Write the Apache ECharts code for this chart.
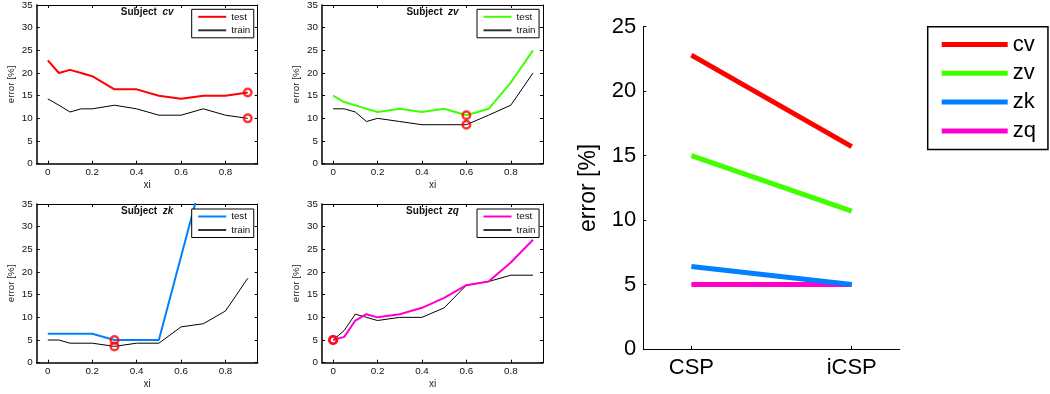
<!DOCTYPE html>
<html>
<head>
<meta charset="utf-8">
<script src="https://cdn.jsdelivr.net/npm/echarts@6/dist/echarts.min.js"></script>
<style>
html,body{margin:0;padding:0;background:#fff;}
#c{width:1050px;height:394px;}
</style>
</head>
<body>
<div id="c"></div>
<script>
// ---- data ----
const xi = [0, 0.05, 0.1, 0.15, 0.2, 0.3, 0.4, 0.5, 0.6, 0.7, 0.8, 0.9];
const xiTicks = [0, 0.2, 0.4, 0.6, 0.8];
const subjects = ['cv', 'zv', 'zk', 'zq'];
const subjectColors = ['#ff0000', '#40ff00', '#0080ff', '#ff00cc'];
const testCv  = [22.8, 20.0, 20.7, 20.0, 19.3, 16.4, 16.4, 15.0, 14.3, 15.0, 15.0, 15.7];
const trainCv = [14.3, 12.9, 11.4, 12.1, 12.1, 12.9, 12.1, 10.7, 10.7, 12.1, 10.7, 10.0];
const testZv  = [15.0, 13.6, 12.9, 12.1, 11.4, 12.1, 11.4, 12.1, 10.7, 12.1, 17.9, 25.0];
const trainZv = [12.1, 12.1, 11.4, 9.3, 10.0, 9.3, 8.6, 8.6, 8.6, 10.7, 12.9, 20.0];
const testZk  = [6.4, 6.4, 6.4, 6.4, 6.4, 5.0, 5.0, 5.0, 23.4, 41.8, 46.0, 50.0];
const trainZk = [5.0, 5.0, 4.3, 4.3, 4.3, 3.6, 4.3, 4.3, 7.9, 8.6, 11.4, 18.6];
const testZq  = [5.0, 5.7, 9.3, 10.7, 10.0, 10.7, 12.1, 14.3, 17.1, 17.9, 22.1, 27.1];
const trainZq = [5.0, 7.1, 10.7, 10.0, 9.3, 10.0, 10.0, 12.1, 17.1, 17.9, 19.3, 19.3];
const bestIndex = [11, 8, 5, 0];           // selected xi per subject (red circles)
const methods = ['CSP', 'iCSP'];
const yTicksSmall = [0, 35, 5];            // min, max, step
const yTicksBig = [0, 25, 5];

const tests = [testCv, testZv, testZk, testZq];
const trains = [trainCv, trainZv, trainZk, trainZq];

// ---- layout ----
const FONT = 'Liberation Sans, Arial, Helvetica, sans-serif';
const smallGrids = [
  {left: 36.7, top: 4.3, width: 221, height: 159.4},
  {left: 322, top: 4.3, width: 221, height: 159.4},
  {left: 36.7, top: 204, width: 221, height: 158.7},
  {left: 322, top: 204, width: 221, height: 158.7}
];
const bigGrid = {left: 643.3, top: 26.7, width: 256.5, height: 322.3};

const grid = [], xAxis = [], yAxis = [], series = [], legend = [], title = [];

smallGrids.forEach((g, i) => {
  grid.push(Object.assign({containLabel: false}, g));
  const s = subjects[i];
  const tickStyle = {show: true, inside: true, length: 3, lineStyle: {color: '#000', width: 1}};
  xAxis.push({
    gridIndex: i, type: 'value', min: -0.05, max: 0.945, position: 'bottom',
    axisLine: {show: true, onZero: false, lineStyle: {color: '#000', width: 1.5}},
    axisTick: Object.assign({customValues: xiTicks}, tickStyle),
    axisLabel: {customValues: xiTicks, color: '#111', fontSize: 9.8, fontFamily: FONT, margin: 4},
    splitLine: {show: false},
    name: 'xi', nameLocation: 'middle', nameGap: 16.5,
    nameTextStyle: {color: '#222', fontSize: 10, fontFamily: FONT}
  });
  xAxis.push({
    gridIndex: i, type: 'value', min: -0.05, max: 0.945, position: 'top',
    axisLine: {show: true, onZero: false, lineStyle: {color: '#000', width: 1}},
    axisTick: Object.assign({customValues: xiTicks}, tickStyle),
    axisLabel: {show: false}, splitLine: {show: false}
  });
  yAxis.push({
    gridIndex: i, type: 'value', min: yTicksSmall[0], max: yTicksSmall[1], interval: yTicksSmall[2], position: 'left',
    axisLine: {show: true, onZero: false, lineStyle: {color: '#000', width: 1.5}},
    axisTick: tickStyle,
    axisLabel: {color: '#111', fontSize: 9.8, fontFamily: FONT, margin: 4},
    splitLine: {show: false},
    name: 'error [%]', nameLocation: 'middle', nameGap: 20.5,
    nameTextStyle: {color: '#222', fontSize: 9.8, fontFamily: FONT}
  });
  yAxis.push({
    gridIndex: i, type: 'value', min: yTicksSmall[0], max: yTicksSmall[1], interval: yTicksSmall[2], position: 'right',
    axisLine: {show: true, onZero: false, lineStyle: {color: '#000', width: 1}},
    axisTick: tickStyle, axisLabel: {show: false}, splitLine: {show: false}
  });
  const test = tests[i], train = trains[i];
  series.push({
    name: s + ' train', type: 'line', xAxisIndex: 2 * i, yAxisIndex: 2 * i,
    data: xi.map((x, k) => [x, train[k]]), color: '#000',
    lineStyle: {width: 1, color: '#000'}, symbol: 'none', animation: false, clip: true
  });
  series.push({
    name: s + ' test', type: 'line', xAxisIndex: 2 * i, yAxisIndex: 2 * i,
    data: xi.map((x, k) => [x, test[k]]), color: subjectColors[i],
    lineStyle: {width: 2, color: subjectColors[i]}, symbol: 'none', animation: false, clip: true
  });
  const b = bestIndex[i];
  series.push({
    name: s + ' best', type: 'scatter', xAxisIndex: 2 * i, yAxisIndex: 2 * i,
    data: [[xi[b], test[b]], [xi[b], train[b]]],
    symbol: 'circle', symbolSize: 7.5,
    itemStyle: {color: 'rgba(0,0,0,0)', borderColor: '#ff0000', borderWidth: 2.5},
    animation: false, z: 5, clip: false
  });
  legend.push({
    orient: 'vertical', left: g.left + 155, top: g.top + 5,
    data: [{name: s + ' test'}, {name: s + ' train', itemStyle: {color: '#333'}}],
    formatter: n => n.split(' ')[1],
    icon: 'rect', itemWidth: 28, itemHeight: 2, itemGap: 3.5,
    padding: [2.5, 3.5, 2.5, 6.5],
    borderColor: '#000', borderWidth: 1, backgroundColor: '#fff',
    textStyle: {color: '#111', fontSize: 9.8, fontFamily: FONT},
    selectedMode: false
  });
  title.push({
    text: '{a|Subject  }{b|' + s + '}',
    left: g.left + g.width / 2, top: g.top + 2.5, textAlign: 'center',
    textStyle: {
      rich: {
        a: {fontSize: 10, fontWeight: 'bold', fontFamily: FONT, color: '#111'},
        b: {fontSize: 10, fontWeight: 'bold', fontStyle: 'italic', fontFamily: FONT, color: '#111'}
      }
    },
    padding: 0
  });
});

// ---- right plot ----
grid.push(bigGrid);
xAxis.push({
  gridIndex: 4, type: 'value', min: 0.7, max: 2.3,
  axisLine: {show: true, onZero: false, lineStyle: {color: '#000', width: 1}},
  axisTick: {show: true, inside: true, length: 3, customValues: [1, 2], lineStyle: {color: '#000'}},
  axisLabel: {customValues: [1, 2], formatter: v => methods[Math.round(v) - 1],
    color: '#000', fontSize: 22, fontFamily: FONT, margin: 8},
  splitLine: {show: false}
});
yAxis.push({
  gridIndex: 4, type: 'value', min: yTicksBig[0], max: yTicksBig[1], interval: yTicksBig[2],
  axisLine: {show: true, onZero: false, lineStyle: {color: '#000', width: 1}},
  axisTick: {show: true, inside: true, length: 3, lineStyle: {color: '#000'}},
  axisLabel: {color: '#000', fontSize: 22, fontFamily: FONT, margin: 7},
  splitLine: {show: false},
  name: 'error [%]', nameLocation: 'middle', nameGap: 43,
  nameTextStyle: {color: '#000', fontSize: 23, fontFamily: FONT}
});
const bigOrder = [0, 1, 3, 2];
bigOrder.forEach(i => {
  series.push({
    name: subjects[i], type: 'line', xAxisIndex: 8, yAxisIndex: 8,
    data: [[1, tests[i][0]], [2, tests[i][bestIndex[i]]]],
    color: subjectColors[i], lineStyle: {width: 5, color: subjectColors[i]},
    symbol: 'none', animation: false
  });
});
legend.push({
  orient: 'vertical', left: 927.7, top: 26.7,
  data: subjects.slice(),
  icon: 'rect', itemWidth: 66, itemHeight: 5, itemGap: 6.8,
  padding: [6.8, 12, 7.5, 14],
  borderColor: '#000', borderWidth: 1.5, backgroundColor: '#fff',
  textStyle: {color: '#000', fontSize: 22, fontFamily: FONT},
  selectedMode: false
});

const chart = echarts.init(document.getElementById('c'), null, {renderer: 'canvas'});
chart.setOption({
  backgroundColor: '#fff',
  animation: false,
  title, grid, xAxis, yAxis, series, legend
});
</script>
</body>
</html>
